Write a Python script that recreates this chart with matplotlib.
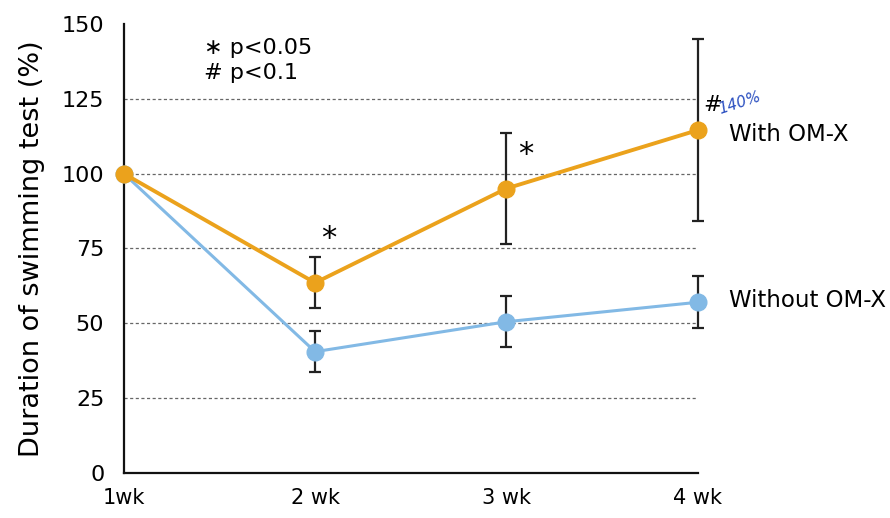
import matplotlib as mpl
mpl.use('Agg')                                  # no screen
import matplotlib.pyplot as plt

plt.rcParams['font.family'] = ['DejaVu Sans']

weeks = [1, 2, 3, 4]
week_labels = ["1wk", "2 wk", "3 wk", "4 wk"]
with_omx = [100, 63.5, 95, 114.5]
with_err = [0, 8.5, 18.5, 30.5]
without_omx = [100, 40.5, 50.5, 57]
without_err = [0, 6.8, 8.5, 8.7]

orange = "#EBA21C"
blue = "#82B9E5"

fig = plt.figure(figsize=(8.9, 5.18), dpi=100)
ax = fig.add_axes([0.139, 0.087, 0.645, 0.867])

# dotted grid lines
for g in [25, 50, 75, 100, 125]:
    ax.axhline(g, color="#666666", lw=0.9, ls=(0, (2.5, 2)), zorder=0)

# error bars (black, behind the markers)
for vals, errs in [(with_omx, with_err), (without_omx, without_err)]:
    eb = ax.errorbar(weeks[1:], vals[1:], yerr=errs[1:], fmt="none",
                     ecolor="#222222", elinewidth=1.6, capsize=4, capthick=1.6, zorder=2)
    for art in eb.lines[1] + eb.lines[2]:
        art.set_clip_on(False)

ax.plot(weeks, without_omx, color=blue, lw=2.2, marker="o", ms=12, zorder=3, clip_on=False)
ax.plot(weeks, with_omx, color=orange, lw=2.8, marker="o", ms=12, zorder=4, clip_on=False)

ax.set_xlim(1, 4)
ax.set_ylim(0, 150)
ax.set_xticks(weeks)
ax.set_xticklabels(week_labels, fontsize=15)
ax.set_yticks([0, 25, 50, 75, 100, 125, 150])
ax.tick_params(axis="both", length=0)
ax.tick_params(axis="y", labelsize=16, pad=14)
ax.tick_params(axis="x", pad=11)
ax.set_ylabel("Duration of swimming test (%)", fontsize=19.5, labelpad=12)

for s in ["top", "right"]:
    ax.spines[s].set_visible(False)
for s in ["left", "bottom"]:
    ax.spines[s].set_linewidth(1.6)
    ax.spines[s].set_color("#111111")

# significance marks
ax.text(2.03, with_omx[1] + with_err[1] + 1.5, "*", fontsize=22, ha="left", va="bottom")
ax.text(3.06, with_omx[2] + with_err[2] - 12, "*", fontsize=22, ha="left", va="bottom")
ax.text(4.03, 119.5, "#", fontsize=16, ha="left", va="bottom")
ax.text(4.1, 119, "140%", fontsize=11, color="#2a4fc0", style="italic",
        ha="left", va="bottom", rotation=18)

ax.text(1.42, 142, "\u2217 p<0.05", fontsize=16, ha="left", va="center")
ax.text(1.42, 133.5, "# p<0.1", fontsize=16, ha="left", va="center")

ax.text(4.165, 113, "With OM-X", fontsize=16.5, ha="left", va="center", clip_on=False)
ax.text(4.165, 57.5, "Without OM-X", fontsize=16.5, ha="left", va="center", clip_on=False)

fig.savefig("out.png", dpi=100)
